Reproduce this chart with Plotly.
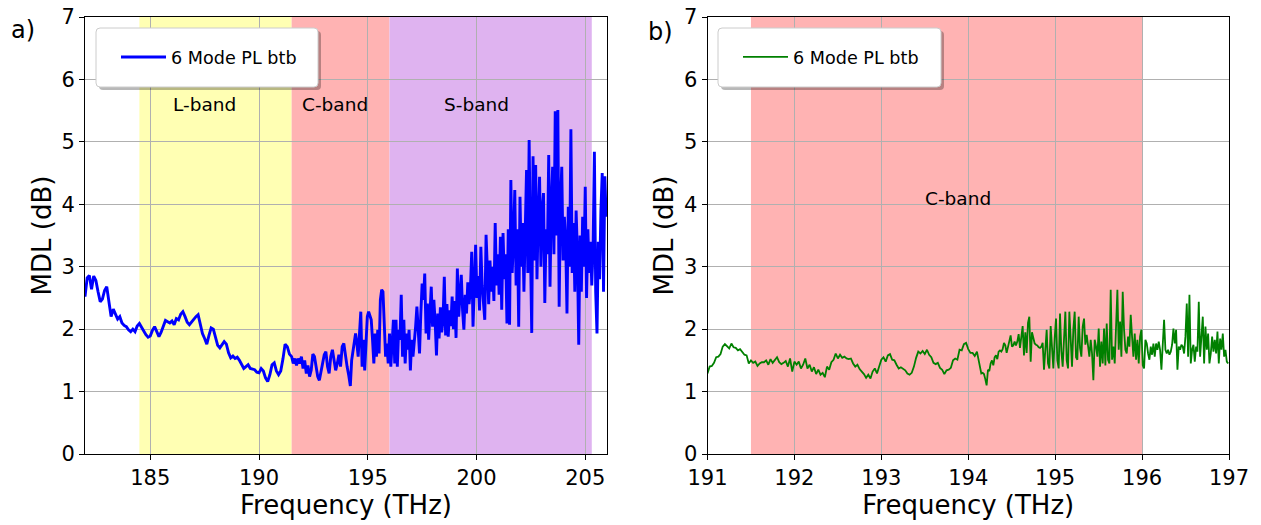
import numpy as np
import plotly.graph_objects as go

W, H = 1261, 525
FONT = "DejaVu Sans"

# ---------------- Panel a) data (blue) ----------------
a_seg1_range = (182.0, 191.4)
a_seg1_mdl = [2.52, 2.82, 2.86, 2.64, 2.85, 2.78, 2.60, 2.44, 2.48, 2.62,
              2.68, 2.40, 2.20, 2.32, 2.24, 2.16, 2.20, 2.10, 2.06, 2.04,
              1.99, 1.96, 2.00, 1.96, 2.05, 2.09, 2.03, 1.96, 1.91, 1.87,
              1.89, 1.98, 2.04, 1.96, 1.88, 1.95, 2.05, 2.14, 2.12, 2.10,
              2.13, 2.07, 2.17, 2.15, 2.24, 2.28, 2.20, 2.11, 2.07, 2.12,
              2.15, 2.20, 2.23, 2.07, 1.93, 1.85, 1.76, 1.90, 2.02, 2.00,
              1.85, 1.74, 1.70, 1.76, 1.80, 1.76, 1.62, 1.54, 1.57, 1.53,
              1.55, 1.50, 1.43, 1.37, 1.40, 1.43, 1.37, 1.36, 1.35, 1.31,
              1.30, 1.37, 1.33, 1.22, 1.16, 1.27, 1.43, 1.46, 1.33, 1.27,
              1.33, 1.52, 1.76, 1.72, 1.60]
a_seg2_range = (191.5, 194.2)
a_seg2_mdl = [1.56, 1.45, 1.53, 1.42, 1.53, 1.45, 1.56, 1.37, 1.50, 1.29,
              1.42, 1.24, 1.34, 1.60, 1.56, 1.40, 1.24, 1.18, 1.34, 1.45,
              1.59, 1.64, 1.40, 1.29, 1.56, 1.67, 1.53, 1.34, 1.45, 1.59,
              1.40, 1.72, 1.77, 1.56, 1.40, 1.26, 1.09]
a_seg3_range = (194.26, 205.96)
a_seg3_mdl = [1.50, 1.67, 1.77, 1.93, 1.77, 1.56, 1.93, 2.28, 1.40, 1.83,
              1.34, 1.93, 2.20, 2.28, 2.23, 2.15, 1.83, 1.45, 1.93, 1.56,
              1.99, 1.61, 2.47, 2.63, 2.60, 2.04, 1.56, 1.77, 1.45, 1.93,
              1.40, 1.77, 2.15, 1.45, 2.15, 1.40, 1.99, 1.83, 2.55, 1.56,
              2.15, 1.45, 1.93, 1.67, 1.99, 1.34, 1.83, 1.56, 1.77, 2.04,
              2.36, 1.93, 1.61, 2.25, 2.73, 2.47, 2.89, 1.93, 2.41, 1.83,
              2.20, 2.68, 2.04, 2.47,
              2.10, 1.58, 2.25, 1.85, 2.35, 1.95, 2.15, 2.84, 1.90, 2.40,
              1.88, 2.30, 2.05, 2.52, 2.00, 2.45, 1.86, 2.97, 2.20, 2.60,
              2.87, 2.30, 1.99, 2.55, 2.25, 2.75, 2.40, 2.65, 3.24, 2.04,
              2.60, 3.35, 2.50, 2.85, 2.30, 3.32, 2.70, 2.45, 2.15, 3.51,
              2.90, 2.40, 3.10, 2.60, 3.00, 2.45, 3.70, 2.70, 3.20, 2.55,
              3.48, 2.31, 3.54, 2.80, 3.20, 2.09, 3.60, 2.07, 4.39, 2.90,
              3.40, 4.23, 2.70, 3.60, 2.04, 4.12, 3.00, 3.70, 2.60, 3.50,
              4.55, 2.90, 5.03, 3.30, 1.94, 4.77, 3.10, 4.63, 2.80, 3.80,
              4.44, 3.00, 3.90, 4.18, 2.42, 3.60, 3.20, 4.79, 2.68, 4.00,
              4.60, 3.20, 5.49, 3.50, 5.51, 2.36, 4.00, 4.60, 3.10, 3.80,
              3.40, 2.25, 3.96, 3.00, 5.20, 2.90, 3.70, 2.60, 3.90, 3.20,
              1.75, 3.50, 2.60, 3.80, 3.00, 4.28, 2.50, 3.60, 2.90, 3.40,
              2.70, 3.30, 4.84, 2.60, 1.93, 3.40, 2.80, 3.90, 4.50, 2.60,
              4.45, 3.80]

# ---------------- Panel b) data (green) ----------------
b_seg1_range = (191.0, 194.1)
b_seg1_mdl = [1.29, 1.40, 1.41, 1.46, 1.55, 1.56, 1.60, 1.72, 1.76, 1.72,
              1.69, 1.77, 1.71, 1.70, 1.66, 1.68, 1.63, 1.59, 1.58, 1.45,
              1.50, 1.46, 1.48, 1.41, 1.45, 1.47, 1.47, 1.50, 1.43, 1.52,
              1.46, 1.51, 1.55, 1.47, 1.44, 1.46, 1.49, 1.40, 1.53, 1.32,
              1.48, 1.43, 1.48, 1.37, 1.43, 1.53, 1.37, 1.43, 1.32, 1.39,
              1.28, 1.35, 1.27, 1.30, 1.23, 1.40, 1.35, 1.47, 1.51, 1.61,
              1.53, 1.59, 1.54, 1.56, 1.53, 1.52, 1.53, 1.45, 1.40, 1.43,
              1.36, 1.32, 1.28, 1.22, 1.27, 1.21, 1.32, 1.37, 1.29, 1.40,
              1.51, 1.55, 1.48, 1.58, 1.60, 1.51, 1.50, 1.43, 1.37, 1.39,
              1.36, 1.34, 1.29, 1.27, 1.30, 1.40, 1.54, 1.64, 1.61, 1.65,
              1.60, 1.67, 1.59, 1.55, 1.46, 1.44, 1.46, 1.38, 1.35, 1.28,
              1.34, 1.35, 1.38, 1.50, 1.53, 1.51, 1.67, 1.66, 1.76, 1.78,
              1.68, 1.62, 1.62, 1.57, 1.64]
b_seg2_range = (194.15, 196.99)
b_seg2_mdl = [1.29, 1.30, 1.28, 1.20, 1.10, 1.35, 1.33, 1.45, 1.50, 1.42,
              1.55, 1.58, 1.52, 1.64, 1.66, 1.64, 1.68, 1.78, 1.74, 1.62,
              1.72, 1.82, 1.90, 1.72, 1.74, 1.80, 1.74, 1.80, 1.92, 1.70,
              1.85, 2.05, 1.58, 1.95, 1.62, 2.10, 2.20, 1.48, 1.95, 1.85,
              1.77, 1.75, 1.74, 1.71, 1.70, 1.72, 1.78,
              1.35, 1.75, 1.99, 1.45, 1.37, 2.05, 1.60, 1.37, 1.85, 2.17,
              1.50, 1.37, 2.25, 1.65, 1.40, 1.90, 2.28, 1.50, 1.37, 2.28,
              1.70, 1.40, 2.00, 2.28, 1.55, 1.51, 2.20, 1.70, 1.56, 2.04,
              2.17, 1.75, 1.91, 1.67, 1.56, 1.83, 1.61, 1.18, 1.83, 1.72,
              1.56, 2.01, 1.40, 1.80, 1.45, 2.01, 1.42, 2.09, 1.51, 1.45,
              2.63, 1.51, 1.72, 1.45, 2.04, 2.63, 1.67, 2.12, 1.56, 2.60,
              1.99, 1.67, 1.61, 1.88, 1.72, 2.23, 1.88, 1.56, 1.93, 1.51,
              1.83, 1.45, 1.88, 1.99, 1.42, 1.37, 1.83, 1.77, 1.61, 1.51,
              1.72, 1.59, 1.77, 1.56, 1.77, 1.67, 1.80, 1.67, 1.35, 1.80,
              2.15, 1.67, 1.61, 1.67, 1.59, 1.64, 1.75, 2.01, 1.77, 1.99,
              1.35, 1.72, 1.67, 1.75, 1.72, 1.61, 1.88, 2.41, 1.56, 2.55,
              1.45, 1.67, 1.75, 1.48, 1.72, 1.64, 2.44, 1.56, 1.88, 2.20,
              1.45, 2.04, 1.67, 1.93, 1.45, 1.61, 1.88, 1.64, 1.83, 1.61,
              1.96, 1.45, 1.85, 1.67, 1.93, 1.56, 1.67, 1.48, 1.45]

# Bands
a_band_names = ["L-band", "C-band", "S-band"]
a_band_starts = [184.5, 191.5, 196.0]
a_band_ends = [191.5, 196.0, 205.3]
a_band_colors = ["#ffffb3", "#ffb3b3", "#dfb3f0"]
a_label_x = [187.5, 193.5, 200.0]
a_label_y = 5.6

b_band_names = ["C-band"]
b_band_starts = [191.5]
b_band_ends = [196.0]
b_band_colors = ["#ffb3b3"]
b_label_x = [193.88]
b_label_y = 4.1

a_xticks = [185, 190, 195, 200, 205]
b_xticks = [191, 192, 193, 194, 195, 196, 197]
y_ticks = [0, 1, 2, 3, 4, 5, 6, 7]


def build(segs):
    xs, ys = [], []
    for (r, vals) in segs:
        xs.extend(np.linspace(r[0], r[1], len(vals)).tolist())
        ys.extend(vals)
    return xs, ys


ax_f, ax_m = build([(a_seg1_range, a_seg1_mdl), (a_seg2_range, a_seg2_mdl), (a_seg3_range, a_seg3_mdl)])
bx_f, bx_m = build([(b_seg1_range, b_seg1_mdl), (b_seg2_range, b_seg2_mdl)])

fig = go.Figure()
fig.add_trace(go.Scatter(x=ax_f, y=ax_m, mode="lines", name="6 Mode PL btb",
                         line=dict(color="#0000ff", width=2.9), xaxis="x", yaxis="y",
                         legend="legend"))
fig.add_trace(go.Scatter(x=bx_f, y=bx_m, mode="lines", name="6 Mode PL btb",
                         line=dict(color="#008000", width=1.8), xaxis="x2", yaxis="y2",
                         legend="legend2"))

shapes = []
annotations = []
for s, e, c in zip(a_band_starts, a_band_ends, a_band_colors):
    shapes.append(dict(type="rect", xref="x", yref="y domain", x0=s, x1=e, y0=0, y1=1,
                       fillcolor=c, line=dict(width=0), layer="below"))
for s, e, c in zip(b_band_starts, b_band_ends, b_band_colors):
    shapes.append(dict(type="rect", xref="x2", yref="y2 domain", x0=s, x1=e, y0=0, y1=1,
                       fillcolor=c, line=dict(width=0), layer="below"))
for name, x in zip(a_band_names, a_label_x):
    annotations.append(dict(x=x, y=a_label_y, xref="x", yref="y", text=name, showarrow=False,
                            font=dict(family=FONT, size=18.5, color="black"),
                            xanchor="center", yanchor="middle"))
for name, x in zip(b_band_names, b_label_x):
    annotations.append(dict(x=x, y=b_label_y, xref="x2", yref="y2", text=name, showarrow=False,
                            font=dict(family=FONT, size=18.5, color="black"),
                            xanchor="center", yanchor="middle"))


def px(xp):
    return xp / W


def py(yp):
    return 1 - yp / H


def rounded_box(x0, y0, x1, y1, r=4):
    rx, ry = r / W, r / H
    X0, X1 = px(x0), px(x1)
    Y0, Y1 = py(y0), py(y1)  # Y0 top, Y1 bottom
    return (f"M{X0+rx},{Y0} L{X1-rx},{Y0} Q{X1},{Y0} {X1},{Y0-ry} "
            f"L{X1},{Y1+ry} Q{X1},{Y1} {X1-rx},{Y1} L{X0+rx},{Y1} "
            f"Q{X0},{Y1} {X0},{Y1+ry} L{X0},{Y0-ry} Q{X0},{Y0} {X0+rx},{Y0} Z")


for (bx0, by0, bx1, by1) in [(96, 28, 318, 87), (718, 28, 941, 87)]:
    shapes.append(dict(type="path", xref="paper", yref="paper",
                       path=rounded_box(bx0 + 3, by0 + 3, bx1 + 3, by1 + 3),
                       fillcolor="rgba(0,0,0,0.28)", line=dict(width=0), layer="above"))
    shapes.append(dict(type="path", xref="paper", yref="paper",
                       path=rounded_box(bx0, by0, bx1, by1),
                       fillcolor="white", line=dict(color="#cccccc", width=1), layer="above"))

annotations.append(dict(x=px(23), y=py(30), xref="paper", yref="paper", text="a)", showarrow=False,
                        font=dict(family=FONT, size=24, color="black"), xanchor="center", yanchor="middle"))
annotations.append(dict(x=px(660), y=py(32), xref="paper", yref="paper", text="b)", showarrow=False,
                        font=dict(family=FONT, size=24, color="black"), xanchor="center", yanchor="middle"))

axis_common = dict(showline=True, linecolor="black", linewidth=1, mirror=True,
                   ticks="outside", ticklen=5, tickwidth=1, tickcolor="black",
                   showgrid=True, gridcolor="#b0b0b0", gridwidth=1, zeroline=False,
                   tickfont=dict(family=FONT, size=21, color="black"), automargin=False)
title_font = dict(family=FONT, size=26, color="black")

fig.update_layout(
    width=W, height=H, margin=dict(l=0, r=0, t=0, b=0),
    paper_bgcolor="white", plot_bgcolor="white", template="none",
    showlegend=True,
    xaxis=dict(domain=[85 / W, 607 / W], range=[182, 206], tickvals=a_xticks, anchor="y",
               title=dict(text="Frequency (THz)", font=title_font, standoff=6), **axis_common),
    yaxis=dict(domain=[1 - 454 / H, 1 - 17 / H], range=[0, 7], tickvals=y_ticks, anchor="x",
               title=dict(text="MDL (dB)", font=title_font, standoff=2), **axis_common),
    xaxis2=dict(domain=[707.5 / W, 1229 / W], range=[191, 197], tickvals=b_xticks, anchor="y2",
                title=dict(text="Frequency (THz)", font=title_font, standoff=6), **axis_common),
    yaxis2=dict(domain=[1 - 454 / H, 1 - 17 / H], range=[0, 7], tickvals=y_ticks, anchor="x2",
                title=dict(text="MDL (dB)", font=title_font, standoff=2), **axis_common),
    legend=dict(x=px(116), y=py(39), xanchor="left", yanchor="top", bgcolor="rgba(0,0,0,0)",
                borderwidth=0, font=dict(family=FONT, size=17.6, color="black"), itemwidth=45),
    legend2=dict(x=px(738), y=py(39), xanchor="left", yanchor="top", bgcolor="rgba(0,0,0,0)",
                 borderwidth=0, font=dict(family=FONT, size=17.6, color="black"), itemwidth=45),
    shapes=shapes, annotations=annotations,
)

fig.write_html("out.html")
